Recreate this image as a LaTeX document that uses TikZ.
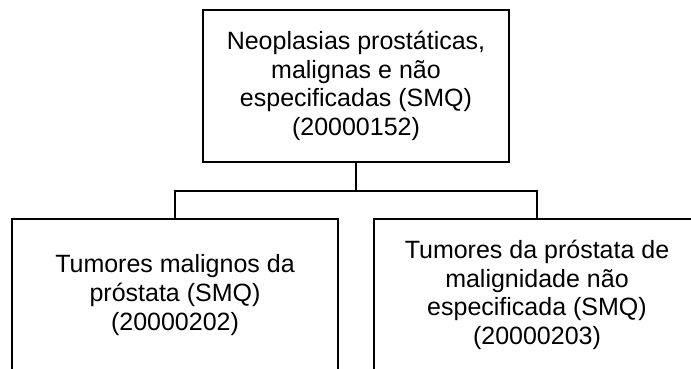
\documentclass[tikz,border=0pt]{standalone}
\usepackage{fontspec}
\setmainfont{Liberation Sans}
\begin{document}
\begin{tikzpicture}[x=1pt,y=1pt,
  box/.style={draw=black, line width=1.3pt, inner sep=0pt, align=center,
    font=\fontsize{25}{28.7}\selectfont},
  conn/.style={draw=black, line width=1.3pt}]
\useasboundingbox (0,0) rectangle (691,-368);
\clip (0,0) rectangle (691,-368);
\node[box, minimum width=306pt, minimum height=152pt] (top) at (356,-86)
  {Neoplasias prostáticas,\\malignas e não\\especificadas (SMQ)\\(20000152)};
\node[box, minimum width=326pt, minimum height=152pt] (left) at (175,-295)
  {Tumores malignos da\\próstata (SMQ)\\(20000202)};
\node[box, minimum width=326pt, minimum height=152pt] (right) at (537,-295)
  {Tumores da próstata de\\malignidade não\\especificada (SMQ)\\(20000203)};
\coordinate (bus) at (356,-191);
\draw[conn] (top.south) -- (bus) -| (left.north);
\draw[conn] (bus) -| (right.north);
\end{tikzpicture}
\end{document}
